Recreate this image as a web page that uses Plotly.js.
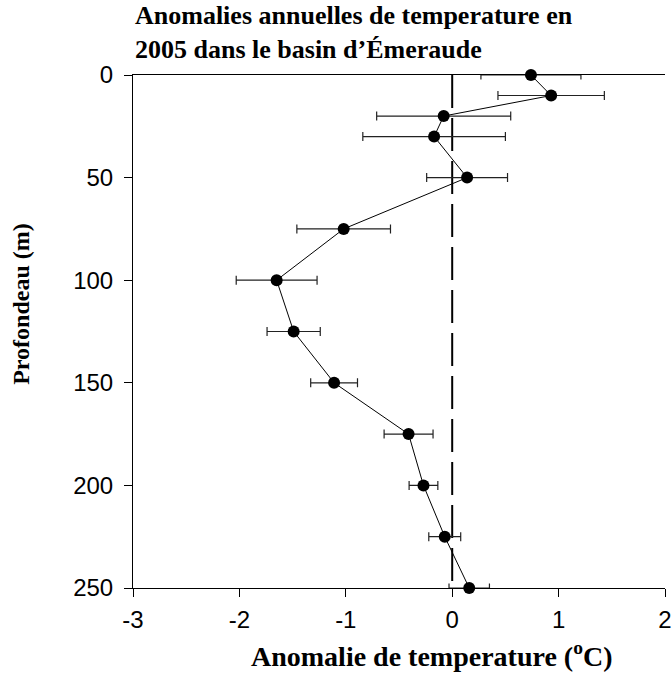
<!DOCTYPE html>
<html>
<head>
<meta charset="utf-8">
<script src="https://cdn.plot.ly/plotly-3.0.1.min.js"></script>
<style>html,body{margin:0;padding:0;background:#fff;}#chart{width:672px;height:692px;}</style>
</head>
<body>
<div id="chart"></div>
<script>
const depths = [0, 10, 20, 30, 50, 75, 100, 125, 150, 175, 200, 225, 250];
const anomalies = [0.74, 0.93, -0.08, -0.17, 0.14, -1.02, -1.65, -1.49, -1.11, -0.41, -0.27, -0.07, 0.16];
const errors = [0.47, 0.50, 0.63, 0.67, 0.38, 0.44, 0.38, 0.25, 0.22, 0.23, 0.135, 0.15, 0.19];
const refX = [0, 0];
const refDepth = [0, 250];
const xTicks = [-3, -2, -1, 0, 1, 2];
const yTicks = [0, 50, 100, 150, 200, 250];

const traces = [
  {
    x: refX, y: refDepth, type: 'scatter', mode: 'lines',
    line: {color: '#000', width: 2, dash: '33px,10px'},
    hoverinfo: 'skip', cliponaxis: false
  },
  {
    x: anomalies, y: depths, type: 'scatter', mode: 'lines+markers',
    line: {color: '#000', width: 1},
    marker: {color: '#000', size: 12},
    error_x: {type: 'data', array: errors, visible: true, color: '#222', thickness: 1.2, width: 4.5},
    cliponaxis: false
  }
];

const layout = {
  width: 672, height: 692,
  margin: {l: 133, r: 7, t: 75, b: 104},
  paper_bgcolor: '#fff', plot_bgcolor: '#fff',
  showlegend: false,
  font: {family: '"Liberation Sans", Arial, sans-serif', size: 20, color: '#000'},
  xaxis: {
    range: [-3, 2], tickvals: xTicks, ticktext: xTicks.map(String),
    showgrid: false, zeroline: false, showline: true, linecolor: '#000', linewidth: 1,
    mirror: true, ticks: 'outside', ticklen: 8, tickcolor: '#000', tickwidth: 1,
    ticklabelstandoff: 2,
    tickfont: {family: '"Liberation Sans", Arial, sans-serif', size: 24, color: '#000'}
  },
  yaxis: {
    range: [250, 0], tickvals: yTicks, ticktext: yTicks.map(String),
    showgrid: false, zeroline: false, showline: true, linecolor: '#000', linewidth: 1,
    ticks: 'outside', ticklen: 8, tickcolor: '#000', tickwidth: 1,
    ticklabelstandoff: 6,
    tickfont: {family: '"Liberation Sans", Arial, sans-serif', size: 24, color: '#000'}
  },
  annotations: [
    {
      text: '<b>Anomalies annuelles de temperature en<br>2005 dans le basin d’Émeraude</b>',
      xref: 'paper', yref: 'paper', x: 0, y: 1, xanchor: 'left', yanchor: 'bottom',
      yshift: 9, showarrow: false, align: 'left',
      font: {family: '"Liberation Serif", "Times New Roman", serif', size: 26, color: '#000'}
    },
    {
      text: '<b>Anomalie de temperature (<sup>o</sup>C)</b>',
      xref: 'paper', yref: 'paper', x: 0.562, y: 0, xanchor: 'center', yanchor: 'top',
      yshift: -47, showarrow: false,
      font: {family: '"Liberation Serif", "Times New Roman", serif', size: 28, color: '#000'}
    },
    {
      text: '<b>Profondeau (m)</b>',
      xref: 'paper', yref: 'paper', x: 0, y: 0.554, xanchor: 'right', yanchor: 'middle',
      xshift: -97, textangle: -90, showarrow: false,
      font: {family: '"Liberation Serif", "Times New Roman", serif', size: 24, color: '#000'}
    }
  ]
};

Plotly.newPlot('chart', traces, layout, {displayModeBar: false, staticPlot: true});
</script>
</body>
</html>
